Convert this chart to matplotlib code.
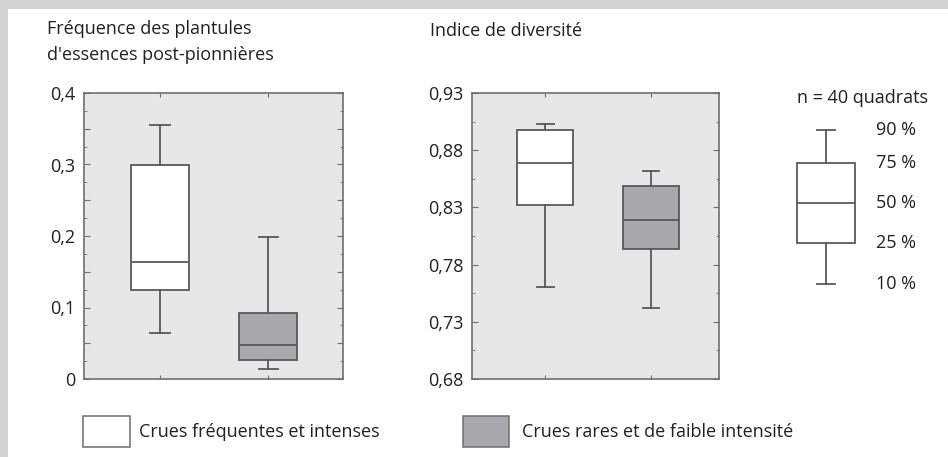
import matplotlib
matplotlib.use("Agg")
import numpy as np
import matplotlib.pyplot as plt
from matplotlib.patches import Rectangle
from matplotlib.ticker import MultipleLocator, FixedLocator, FuncFormatter

plt.rcParams['font.family'] = ['Open Sans', 'DejaVu Sans']

# data (10 / 25 / 50 / 75 / 90 percentiles)
groups = ["Crues fréquentes et intenses", "Crues rares et de faible intensité"]
freq_p10 = [0.064, 0.014]
freq_q1 = [0.124, 0.026]
freq_med = [0.164, 0.047]
freq_q3 = [0.300, 0.093]
freq_p90 = [0.355, 0.198]

div_p10 = [0.760, 0.742]
div_q1 = [0.832, 0.794]
div_med = [0.869, 0.819]
div_q3 = [0.898, 0.849]
div_p90 = [0.903, 0.862]
div_ticks = [0.68, 0.73, 0.78, 0.83, 0.88, 0.93]

key_labels = ["10 %", "25 %", "50 %", "75 %", "90 %"]
key_values = [0.332, 0.474, 0.614, 0.754, 0.871]  # schematic key box (axes fraction)

titles = ["Fréquence des plantules\nd'essences post-pionnières", "Indice de diversité"]
n_text = "n = 40 quadrats"

fills = ["white", "#a7a9ac"]
line_c = "#58595b"
spine_c = "#6d6e70"
text_c = "#231f20"
face_c = "#e6e7e8"
border_c = "#d1d3d4"
FS = 13

W, H = 948, 457
fig = plt.figure(figsize=(W / 100, H / 100), dpi=100)
fig.patch.set_facecolor(border_c)
fig.patches.append(Rectangle((8 / W, 0), 1, 1 - 9 / H, transform=fig.transFigure,
                             facecolor="white", edgecolor="none", zorder=-10))


def px(l, t, r, b):
    return [l / W, 1 - b / H, (r - l) / W, (b - t) / H]


def stats(lo, q1, med, q3, hi):
    return [dict(whislo=a, q1=b, med=c, q3=d, whishi=e, fliers=[])
            for a, b, c, d, e in zip(lo, q1, med, q3, hi)]


lineprops = dict(color=line_c, linewidth=1.3)


def draw_boxes(ax, st, positions, width, cap, colors):
    bp = ax.bxp(st, positions=positions, widths=width, patch_artist=True,
                showfliers=False, capwidths=cap, manage_ticks=False,
                boxprops=dict(edgecolor=line_c, linewidth=1.3),
                medianprops=lineprops, whiskerprops=lineprops, capprops=lineprops)
    for patch, fc in zip(bp["boxes"], colors):
        patch.set_facecolor(fc)
    return bp


def style_axes(ax, xlim):
    ax.set_facecolor(face_c)
    for s in ax.spines.values():
        s.set_color(spine_c)
        s.set_linewidth(1.2)
    ax.set_xlim(*xlim)
    ax.set_xticks([1, 2])
    ax.set_xticklabels([])
    ax.tick_params(axis="x", which="both", direction="in", top=True, bottom=True,
                   length=3, color=spine_c)
    ax.tick_params(axis="y", which="major", direction="in", left=True, right=True,
                   length=4, color=spine_c, labelsize=FS, labelcolor=text_c, pad=6)
    ax.tick_params(axis="y", which="minor", direction="in", left=True, right=True,
                   length=2.5, color=spine_c)


# panel 1
ax1 = fig.add_axes(px(84, 93, 343, 379))
draw_boxes(ax1, stats(freq_p10, freq_q1, freq_med, freq_q3, freq_p90), [1, 2], 0.537, 0.18, fills)
style_axes(ax1, (0.297, 2.69))
ax1.set_ylim(0, 0.4)
ax1.yaxis.set_major_locator(MultipleLocator(0.05))
ax1.yaxis.set_minor_locator(MultipleLocator(0.025))


def fmt1(v, pos):
    if abs(v) < 1e-9:
        return "0"
    if abs(round(v * 10) - v * 10) < 1e-6:
        return f"{v:.1f}".replace(".", ",")
    return ""


ax1.yaxis.set_major_formatter(FuncFormatter(fmt1))

# panel 2
ax2 = fig.add_axes(px(472, 93, 719, 379))
draw_boxes(ax2, stats(div_p10, div_q1, div_med, div_q3, div_p90), [1, 2], 0.53, 0.16, fills)
style_axes(ax2, (0.306, 2.643))
ax2.set_ylim(div_ticks[0], div_ticks[-1])
ax2.yaxis.set_major_locator(FixedLocator(div_ticks))
ax2.yaxis.set_minor_locator(FixedLocator(np.array(div_ticks[:-1]) + 0.025))
ax2.yaxis.set_major_formatter(FuncFormatter(lambda v, p: f"{v:.2f}".replace(".", ",")))

# key
ax3 = fig.add_axes(px(766, 93, 886, 379))
ax3.set_axis_off()
ax3.set_xlim(0, 1)
ax3.set_ylim(0, 1)
kv = key_values
draw_boxes(ax3, [dict(whislo=kv[0], q1=kv[1], med=kv[2], q3=kv[3], whishi=kv[4], fliers=[])],
           [0.5], 0.49, 0.15, ["white"])
for v, lab in zip(kv, key_labels):
    ax3.text(110 / 120, v, lab, transform=ax3.transAxes, ha="left", va="center",
             fontsize=FS, color=text_c, clip_on=False)

fig.text(797 / W, 1 - 98 / H, n_text, ha="left", va="center", fontsize=FS, color=text_c)

# titles
fig.text(47 / W, 1 - 42 / H, titles[0], ha="left", va="center", fontsize=FS,
         color=text_c, linespacing=1.5)
fig.text(430 / W, 1 - 31 / H, titles[1], ha="left", va="center", fontsize=FS, color=text_c)

# legend
for (l, r, tx), fc, lab in zip([(83, 130, 139), (463, 509, 522)], fills, groups):
    fig.patches.append(Rectangle((l / W, 1 - 447 / H), (r - l) / W, 31 / H,
                                 transform=fig.transFigure, facecolor=fc,
                                 edgecolor=spine_c, linewidth=1.1))
    fig.text(tx / W, 1 - 432 / H, lab, ha="left", va="center", fontsize=FS, color=text_c)

fig.savefig("out.png", dpi=100)
